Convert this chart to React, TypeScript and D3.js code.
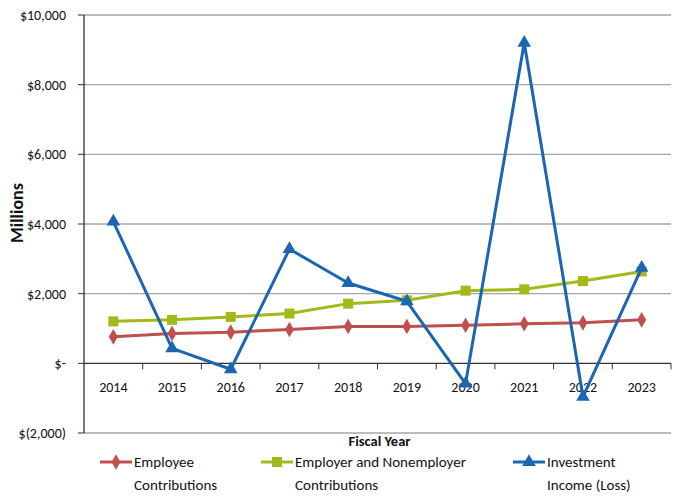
import React from 'react';
import * as d3 from 'd3';

const years = ['2014', '2015', '2016', '2017', '2018', '2019', '2020', '2021', '2022', '2023'];
const employee = [760, 857, 895, 971, 1057, 1057, 1095, 1134, 1162, 1248];
const employer = [1205, 1248, 1333, 1429, 1714, 1810, 2086, 2124, 2362, 2638];
const investment = [4070, 430, -170, 3280, 2305, 1781, -580, 9200, -960, 2740];
const yTicks = [-2000, 0, 2000, 4000, 6000, 8000, 10000];
const yTickLabels = ['$(2,000)', '$-', '$2,000', '$4,000', '$6,000', '$8,000', '$10,000'];

const W = 674;
const H = 496;
const margin = { top: 15, right: 3, bottom: 63, left: 84 };
const font = "Carlito, 'Liberation Sans Narrow', 'Liberation Sans', sans-serif";

const RED = '#C0504D';
const GREEN = '#A4B81A';
const BLUE = '#1B66B1';

export default function App() {
  const x = d3.scaleBand().domain(years).range([margin.left, W - margin.right]);
  const y = d3.scaleLinear().domain([-2000, 10000]).range([H - margin.bottom, margin.top]);
  const cx = (d: string) => (x(d) as number) + x.bandwidth() / 2;

  const line = d3.line<number>().x((_, i) => cx(years[i])).y(d => y(d));

  const diamond = d3.symbol(d3.symbolDiamond, 70)() as string;
  const square = d3.symbol(d3.symbolSquare, 100)() as string;
  const triangle = d3.symbol(d3.symbolTriangle, 80)() as string;

  const series = [
    { name: ['Employee', 'Contributions'], data: employee, color: RED, marker: diamond, lx: 100 },
    { name: ['Employer and Nonemployer', 'Contributions'], data: employer, color: GREEN, marker: square, lx: 261 },
    { name: ['Investment', 'Income (Loss)'], data: investment, color: BLUE, marker: triangle, lx: 513 },
  ];

  const x0 = margin.left;
  const x1 = W - margin.right;

  return (
    <svg width={W} height={H} style={{ position: 'absolute', left: 0, top: 0 }} fontFamily={font}>
      <rect width={W} height={H} fill="#fff" />
      {yTicks.map((t, i) => (
        <g key={t}>
          {t !== 0 && <line x1={x0} x2={x1} y1={y(t)} y2={y(t)} stroke="#a6a6a6" strokeWidth={1.3} />}
          <line x1={x0 - 6} x2={x0} y1={y(t)} y2={y(t)} stroke="#333" strokeWidth={1} />
          <text x={x0 - 18} y={y(t)} dy="0.35em" textAnchor="end" fontSize={14} fill="#111">
            {yTickLabels[i]}
          </text>
        </g>
      ))}
      <line x1={x0} x2={x0} y1={y(10000)} y2={y(-2000)} stroke="#222" strokeWidth={1.2} />
      <line x1={x0} x2={x1} y1={y(0)} y2={y(0)} stroke="#333" strokeWidth={1.3} />
      {years.map(d => (
        <g key={d}>
          <line x1={(x(d) as number) + x.bandwidth()} x2={(x(d) as number) + x.bandwidth()} y1={y(0)} y2={y(0) + 6} stroke="#333" />
          <text x={cx(d)} y={y(0) + 24} dy="0.35em" textAnchor="middle" fontSize={14} fill="#111">
            {d}
          </text>
        </g>
      ))}
      <text transform={`translate(23,213) rotate(-90)`} textAnchor="middle" fontSize={18} fontWeight="bold" fill="#111">
        Millions
      </text>
      <text x={(x0 + x1) / 2 + 2} y={446} textAnchor="middle" fontSize={14.5} fontWeight="bold" fill="#111">
        Fiscal Year
      </text>

      {series.map(s => (
        <g key={s.name[0]}>
          <path d={line(s.data) as string} fill="none" stroke={s.color} strokeWidth={3} strokeLinejoin="round" />
          {s.data.map((v, i) => (
            <path key={i} d={s.marker} transform={`translate(${cx(years[i])},${y(v)})`} fill={s.color} />
          ))}
        </g>
      ))}

      {series.map(s => (
        <g key={'lg' + s.name[0]}>
          <line x1={s.lx} x2={s.lx + 32} y1={462} y2={462} stroke={s.color} strokeWidth={3} />
          <path d={s.marker} transform={`translate(${s.lx + 16},462)`} fill={s.color} />
          <text x={s.lx + 34} y={462} dy="0.35em" fontSize={15} fill="#111">{s.name[0]}</text>
          <text x={s.lx + 34} y={485} dy="0.35em" fontSize={15} fill="#111">{s.name[1]}</text>
        </g>
      ))}
    </svg>
  );
}
